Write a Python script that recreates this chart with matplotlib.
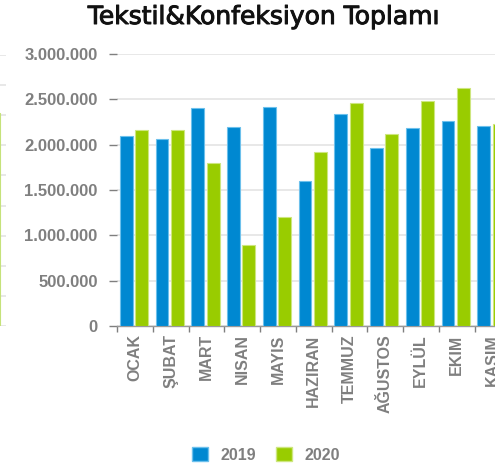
import numpy as np
import matplotlib
matplotlib.use('Agg')
import matplotlib.pyplot as plt
from matplotlib.patches import Patch
import matplotlib.patheffects as pe

# data
months = ['OCAK', 'ŞUBAT', 'MART', 'NISAN', 'MAYIS', 'HAZIRAN', 'TEMMUZ',
          'AĞUSTOS', 'EYLÜL', 'EKIM', 'KASIM']
y2019 = [2095000, 2060000, 2400000, 2195000, 2420000, 1600000, 2335000,
         1960000, 2180000, 2260000, 2210000]
y2020 = [2160000, 2160000, 1800000, 890000, 1205000, 1915000, 2465000,
         2120000, 2480000, 2630000, 2230000]
yticks = [0, 500000, 1000000, 1500000, 2000000, 2500000, 3000000]
series = ['2019', '2020']

# neighbour chart that is cut off at the left edge
left_bar = [7.07]

blue = '#0088d1'
green = '#99cc00'
grey = '#7f7f7f'
grid_c = '#e6e6e6'

plt.rcParams['font.family'] = ['Liberation Sans', 'DejaVu Sans']

W, H = 495, 468
fig = plt.figure(figsize=(W / 100, H / 100), dpi=100)

def px(x0, y0, x1, y1):
    # pixel box (top-left origin) -> figure fraction
    return [x0 / W, 1 - y1 / H, (x1 - x0) / W, (y1 - y0) / H]

# partial neighbour chart
axl = fig.add_axes(px(-60, 55, 6, 326))
axl.set_xlim(-0.5, 0.6)
axl.set_ylim(0, 9)
axl.bar([0], left_bar, width=1.0, color=green, edgecolor='#c5e27a', lw=0.8)
axl.set_yticks(range(10))
axl.yaxis.grid(True, color=grid_c, lw=1.3)
axl.set_axisbelow(True)
for s in axl.spines.values():
    s.set_visible(False)
axl.tick_params(left=False, labelleft=False, bottom=False, labelbottom=False)

# main chart
ax = fig.add_axes(px(117, 54, 117 + 11 * 35.75, 326))
x = np.arange(len(months))
bw = 0.36
ax.bar(x - 0.24, y2019, width=bw, color=blue, edgecolor='#6cc0ec', lw=0.8, zorder=3)
ax.bar(x + 0.19, y2020, width=bw, color=green, edgecolor='#cde67f', lw=0.8, zorder=3)

ax.set_xlim(-0.5, len(months) - 0.5)
ax.set_ylim(0, 3000000)
ax.set_yticks(yticks)
ax.set_yticklabels([f'{v:,}'.replace(',', '.') for v in yticks])
ax.yaxis.grid(True, color=grid_c, lw=1.3, zorder=0)
ax.set_axisbelow(True)

ax.set_xticks(x)
ax.set_xticklabels(months, rotation=90)
ax.set_xticks(np.arange(len(months) + 1) - 0.5, minor=True)
ax.tick_params(axis='x', which='major', length=0, pad=6, labelsize=11.5, labelcolor=grey)
ax.tick_params(axis='x', which='minor', length=4, color=grey, width=1)
ax.tick_params(axis='y', length=6, color=grey, width=1, pad=8, labelsize=12, labelcolor=grey)
for lab in ax.get_xticklabels() + ax.get_yticklabels():
    lab.set_fontweight('bold')

for side in ['top', 'right', 'left']:
    ax.spines[side].set_visible(False)
ax.spines['bottom'].set_color('#999999')
ax.spines['bottom'].set_linewidth(1)

fig.text(264 / W, 1 - 17 / H, 'Tekstil&Konfeksiyon Toplamı', ha='center', va='center',
         fontsize=18, family='DejaVu Sans', color='#111111',
         path_effects=[pe.withStroke(linewidth=0.7, foreground='#111111')])

handles = [Patch(facecolor=blue, edgecolor='#6cc0ec'), Patch(facecolor=green, edgecolor='#cde67f')]
leg = fig.legend(handles, series, loc='center', bbox_to_anchor=(266 / W, 1 - 455 / H),
                 ncol=2, frameon=False, handlelength=1.0, handleheight=1.0,
                 columnspacing=1.2, handletextpad=0.8,
                 prop={'weight': 'bold', 'size': 11.5})
for t in leg.get_texts():
    t.set_color(grey)

fig.savefig('out.png', dpi=100)
